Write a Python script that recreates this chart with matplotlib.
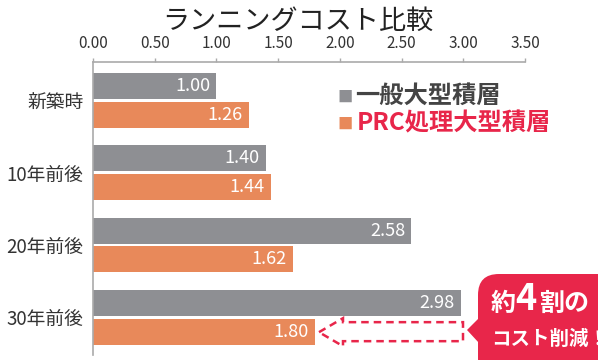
import matplotlib.pyplot as plt
import numpy as np
from matplotlib.patches import FancyBboxPatch, Polygon

plt.rcParams['font.family'] = ['Noto Sans CJK JP', 'DejaVu Sans']

categories = ['新築時', '10年前後', '20年前後', '30年前後']
general = [1.00, 1.40, 2.58, 2.98]
prc = [1.26, 1.44, 1.62, 1.80]
series_names = ['一般大型積層', 'PRC処理大型積層']
xticks = [0.00, 0.50, 1.00, 1.50, 2.00, 2.50, 3.00, 3.50]

gray = '#8e8f93'
orange = '#e8895a'
red = '#e8264a'

W, H = 598, 360
X0, X1 = 93, 525
fig = plt.figure(figsize=(W / 100, H / 100), dpi=100)
ax = fig.add_axes([X0 / W, 1 - 355 / H, (X1 - X0) / W, (355 - 62) / H])

y = np.arange(len(categories))
h = 0.36
off = 0.198
ax.barh(y - off, general, height=h, color=gray)
ax.barh(y + off, prc, height=h, color=orange)

for yi, v in zip(y, general):
    ax.text(v - 0.05, yi - off, f'{v:.2f}', color='white', ha='right', va='center', fontsize=13)
for yi, v in zip(y, prc):
    ax.text(v - 0.05, yi + off, f'{v:.2f}', color='white', ha='right', va='center', fontsize=13)

ax.set_xlim(0, 3.5)
ax.set_ylim(3.52, -0.53)
ax.xaxis.tick_top()
ax.set_xticks(xticks)
ax.set_xticklabels([f'{t:.2f}' for t in xticks], fontsize=11, color='#333333')
ax.tick_params(axis='x', length=3, width=1, color='#aaaaaa', pad=4)
ax.set_yticks(y)
ax.set_yticklabels(categories, fontsize=13.5, color='#333333')
ax.tick_params(axis='y', length=0, pad=7)
for s in ['right', 'bottom']:
    ax.spines[s].set_visible(False)
for s in ['top', 'left']:
    ax.spines[s].set_color('#aaaaaa')
    ax.spines[s].set_linewidth(1.2)

fig.text(298 / W, 1 - 21 / H, 'ランニングコスト比較', ha='center', va='center', fontsize=19.5, color='#222222')

# legend
fig.text(337 / W, 1 - 97 / H, '■', color=gray, fontsize=11, ha='left', va='center')
fig.text(355 / W, 1 - 96 / H, series_names[0], color='#444444', fontsize=17.5, fontweight='bold', ha='left', va='center')
fig.text(337 / W, 1 - 124 / H, '■', color=orange, fontsize=11, ha='left', va='center')
fig.text(357 / W, 1 - 123 / H, series_names[1], color=red, fontsize=17.5, fontweight='bold', ha='left', va='center')

# dashed arrow showing the reduction
sx = (X1 - X0) / 3.5

def px(xp, yp):
    return ((xp - X0) / sx, (yp - 62) / 72.3 - 0.53)

arrow_pts = [px(319, 332), px(343, 318), px(343, 322), px(463, 322),
             px(463, 341), px(343, 341), px(343, 346)]
ax.add_patch(Polygon(arrow_pts, closed=True, fill=False, edgecolor=red,
                     linestyle=(0, (3, 2)), linewidth=1.8, clip_on=False))

# callout box
box = FancyBboxPatch((478 / W, -20 / H), 140 / W, (360 - 274 + 20) / H,
                     boxstyle='round,pad=0,rounding_size=0.035',
                     transform=fig.transFigure, facecolor=red, edgecolor='none',
                     mutation_aspect=W / H)
fig.patches.append(box)
fig.patches.append(Polygon([(479 / W, 1 - 318 / H), (467 / W, 1 - 330 / H), (479 / W, 1 - 343 / H)],
                           closed=True, transform=fig.transFigure, facecolor=red, edgecolor='none'))
fig.text(491 / W, 1 - 304 / H, '約', color='white', fontsize=18, fontweight='bold', ha='left', va='center')
fig.text(515 / W, 1 - 300 / H, '4', color='white', fontsize=26, fontweight='bold', ha='left', va='center')
fig.text(539 / W, 1 - 304 / H, '割の', color='white', fontsize=18, fontweight='bold', ha='left', va='center')
fig.text(491 / W, 1 - 339 / H, 'コスト削減！', color='white', fontsize=14, fontweight='bold', ha='left', va='center')

fig.savefig('out.png', dpi=100)
